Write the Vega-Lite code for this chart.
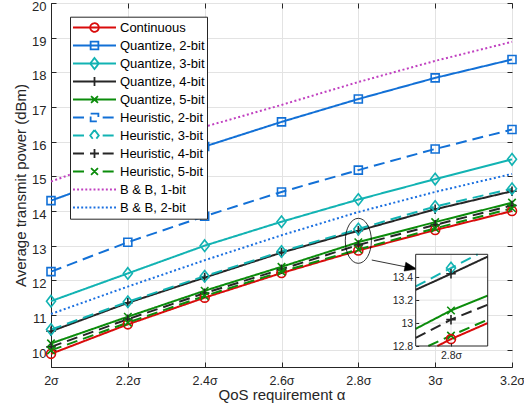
{
"$schema": "https://vega.github.io/schema/vega-lite/v6.json",
"width": 461, "height": 364,
"autosize": {"type": "none"},
"padding": {"left": 51, "top": 3, "right": 12, "bottom": 52},
"background": "white",
"config": {
  "font": "Liberation Sans",
  "view": {"stroke": "#262626", "strokeWidth": 1},
  "axis": {"domainColor": "#262626", "tickColor": "#262626", "labelColor": "#262626", "titleColor": "#262626", "labelFontSize": 13, "titleFontSize": 15, "titleFontWeight": "normal", "gridColor": "#e3e3e3", "gridWidth": 1, "tickSize": -5, "tickWidth": 1, "domainWidth": 1, "labelFont": "Liberation Sans", "titleFont": "Liberation Sans", "labelOverlap": false, "labelFlush": false}
},
"datasets": {
  "main": [
    {"series": "Continuous", "x": 2.0, "y": 9.88}, {"series": "Continuous", "x": 2.2, "y": 10.73}, {"series": "Continuous", "x": 2.4, "y": 11.5}, {"series": "Continuous", "x": 2.6, "y": 12.21}, {"series": "Continuous", "x": 2.8, "y": 12.86}, {"series": "Continuous", "x": 3.0, "y": 13.45}, {"series": "Continuous", "x": 3.2, "y": 14.0},
    {"series": "Quantize, 2-bit", "x": 2.0, "y": 14.3}, {"series": "Quantize, 2-bit", "x": 2.2, "y": 15.1}, {"series": "Quantize, 2-bit", "x": 2.4, "y": 15.86}, {"series": "Quantize, 2-bit", "x": 2.6, "y": 16.57}, {"series": "Quantize, 2-bit", "x": 2.8, "y": 17.23}, {"series": "Quantize, 2-bit", "x": 3.0, "y": 17.84}, {"series": "Quantize, 2-bit", "x": 3.2, "y": 18.37},
    {"series": "Quantize, 3-bit", "x": 2.0, "y": 11.4}, {"series": "Quantize, 3-bit", "x": 2.2, "y": 12.2}, {"series": "Quantize, 3-bit", "x": 2.4, "y": 13.0}, {"series": "Quantize, 3-bit", "x": 2.6, "y": 13.69}, {"series": "Quantize, 3-bit", "x": 2.8, "y": 14.33}, {"series": "Quantize, 3-bit", "x": 3.0, "y": 14.92}, {"series": "Quantize, 3-bit", "x": 3.2, "y": 15.49},
    {"series": "Quantize, 4-bit", "x": 2.0, "y": 10.53}, {"series": "Quantize, 4-bit", "x": 2.2, "y": 11.35}, {"series": "Quantize, 4-bit", "x": 2.4, "y": 12.08}, {"series": "Quantize, 4-bit", "x": 2.6, "y": 12.8}, {"series": "Quantize, 4-bit", "x": 2.8, "y": 13.43}, {"series": "Quantize, 4-bit", "x": 3.0, "y": 14.05}, {"series": "Quantize, 4-bit", "x": 3.2, "y": 14.57},
    {"series": "Quantize, 5-bit", "x": 2.0, "y": 10.18}, {"series": "Quantize, 5-bit", "x": 2.2, "y": 10.95}, {"series": "Quantize, 5-bit", "x": 2.4, "y": 11.7}, {"series": "Quantize, 5-bit", "x": 2.6, "y": 12.39}, {"series": "Quantize, 5-bit", "x": 2.8, "y": 13.1}, {"series": "Quantize, 5-bit", "x": 3.0, "y": 13.68}, {"series": "Quantize, 5-bit", "x": 3.2, "y": 14.24},
    {"series": "Heuristic, 2-bit", "x": 2.0, "y": 12.25}, {"series": "Heuristic, 2-bit", "x": 2.2, "y": 13.1}, {"series": "Heuristic, 2-bit", "x": 2.4, "y": 13.85}, {"series": "Heuristic, 2-bit", "x": 2.6, "y": 14.55}, {"series": "Heuristic, 2-bit", "x": 2.8, "y": 15.18}, {"series": "Heuristic, 2-bit", "x": 3.0, "y": 15.79}, {"series": "Heuristic, 2-bit", "x": 3.2, "y": 16.35},
    {"series": "Heuristic, 3-bit", "x": 2.0, "y": 10.58}, {"series": "Heuristic, 3-bit", "x": 2.2, "y": 11.38}, {"series": "Heuristic, 3-bit", "x": 2.4, "y": 12.12}, {"series": "Heuristic, 3-bit", "x": 2.6, "y": 12.83}, {"series": "Heuristic, 3-bit", "x": 2.8, "y": 13.48}, {"series": "Heuristic, 3-bit", "x": 3.0, "y": 14.13}, {"series": "Heuristic, 3-bit", "x": 3.2, "y": 14.64},
    {"series": "Heuristic, 4-bit", "x": 2.0, "y": 10.08}, {"series": "Heuristic, 4-bit", "x": 2.2, "y": 10.88}, {"series": "Heuristic, 4-bit", "x": 2.4, "y": 11.63}, {"series": "Heuristic, 4-bit", "x": 2.6, "y": 12.32}, {"series": "Heuristic, 4-bit", "x": 2.8, "y": 13.02}, {"series": "Heuristic, 4-bit", "x": 3.0, "y": 13.6}, {"series": "Heuristic, 4-bit", "x": 3.2, "y": 14.16},
    {"series": "Heuristic, 5-bit", "x": 2.0, "y": 9.98}, {"series": "Heuristic, 5-bit", "x": 2.2, "y": 10.78}, {"series": "Heuristic, 5-bit", "x": 2.4, "y": 11.55}, {"series": "Heuristic, 5-bit", "x": 2.6, "y": 12.25}, {"series": "Heuristic, 5-bit", "x": 2.8, "y": 12.89}, {"series": "Heuristic, 5-bit", "x": 3.0, "y": 13.5}, {"series": "Heuristic, 5-bit", "x": 3.2, "y": 14.08},
    {"series": "B & B, 1-bit", "x": 2.0, "y": 14.85}, {"series": "B & B, 1-bit", "x": 2.2, "y": 15.66}, {"series": "B & B, 1-bit", "x": 2.4, "y": 16.43}, {"series": "B & B, 1-bit", "x": 2.6, "y": 17.06}, {"series": "B & B, 1-bit", "x": 2.8, "y": 17.72}, {"series": "B & B, 1-bit", "x": 3.0, "y": 18.33}, {"series": "B & B, 1-bit", "x": 3.2, "y": 18.88},
    {"series": "B & B, 2-bit", "x": 2.0, "y": 11.03}, {"series": "B & B, 2-bit", "x": 2.2, "y": 11.82}, {"series": "B & B, 2-bit", "x": 2.4, "y": 12.58}, {"series": "B & B, 2-bit", "x": 2.6, "y": 13.3}, {"series": "B & B, 2-bit", "x": 2.8, "y": 13.97}, {"series": "B & B, 2-bit", "x": 3.0, "y": 14.55}, {"series": "B & B, 2-bit", "x": 3.2, "y": 15.07}
  ],
  "inset": [
    {"series": "Heuristic, 3-bit", "x": 2.7553, "y": 13.32}, {"series": "Heuristic, 3-bit", "x": 2.8, "y": 13.48}, {"series": "Heuristic, 3-bit", "x": 2.8338, "y": 13.6},
    {"series": "Quantize, 4-bit", "x": 2.7553, "y": 13.29}, {"series": "Quantize, 4-bit", "x": 2.8, "y": 13.43}, {"series": "Quantize, 4-bit", "x": 2.8465, "y": 13.58},
    {"series": "Quantize, 5-bit", "x": 2.7553, "y": 12.95}, {"series": "Quantize, 5-bit", "x": 2.8, "y": 13.11}, {"series": "Quantize, 5-bit", "x": 2.8465, "y": 13.24},
    {"series": "Heuristic, 4-bit", "x": 2.7553, "y": 12.87}, {"series": "Heuristic, 4-bit", "x": 2.8, "y": 13.03}, {"series": "Heuristic, 4-bit", "x": 2.8465, "y": 13.16},
    {"series": "Heuristic, 5-bit", "x": 2.7713, "y": 12.8}, {"series": "Heuristic, 5-bit", "x": 2.8, "y": 12.89}, {"series": "Heuristic, 5-bit", "x": 2.8465, "y": 13.03},
    {"series": "Continuous", "x": 2.7827, "y": 12.8}, {"series": "Continuous", "x": 2.8, "y": 12.86}, {"series": "Continuous", "x": 2.8465, "y": 13.0}
  ],
  "iframe": [{"x": 2.7553, "x2": 2.8465, "y": 12.8, "y2": 13.6}],
  "igrid": [
    {"x": 2.8, "x2": 2.8, "y": 12.8, "y2": 13.6},
    {"x": 2.7553, "x2": 2.8465, "y": 13.0, "y2": 13.0},
    {"x": 2.7553, "x2": 2.8465, "y": 13.2, "y2": 13.2},
    {"x": 2.7553, "x2": 2.8465, "y": 13.4, "y2": 13.4}
  ],
  "annot": [{"x": 2.8, "y": 13.14}],
  "arrow": [{"x": 2.835, "y": 12.586, "x2": 2.952, "y2": 12.326}]
},
"layer": [
  {
    "layer": [
      {
        "layer": [
          {
            "data": {"name": "main"},
            "mark": {"type": "line", "strokeWidth": 2},
            "encoding": {
              "x": {"field": "x", "type": "quantitative", "scale": {"domain": [2, 3.2], "nice": false, "zero": false},
                    "axis": {"orient": "bottom", "values": [2, 2.2, 2.4, 2.6, 2.8, 3, 3.2], "labelExpr": "format(datum.value, '~g') + 'σ'", "title": "QoS requirement α", "grid": true, "labelFontSize": 12.5, "labelPadding": 12, "titlePadding": 1, "labelOverlap": false, "labelFlush": false}},
              "y": {"field": "y", "type": "quantitative", "scale": {"domain": [9.5, 20], "nice": false, "zero": false},
                    "axis": {"orient": "left", "values": [10, 11, 12, 13, 14, 15, 16, 17, 18, 19, 20], "tickCount": 11, "title": "Average transmit power (dBm)", "grid": true, "labelPadding": 10, "labelOffset": 3.5, "titlePadding": 3, "labelOverlap": false, "labelFlush": false, "labelBound": false}},
              "color": {"field": "series", "type": "nominal",
                "scale": {"domain": ["Continuous", "Quantize, 2-bit", "Quantize, 3-bit", "Quantize, 4-bit", "Quantize, 5-bit", "Heuristic, 2-bit", "Heuristic, 3-bit", "Heuristic, 4-bit", "Heuristic, 5-bit", "B & B, 1-bit", "B & B, 2-bit"],
                          "range": ["#d90b0b", "#1270d6", "#12b3b3", "#262626", "#0b8c0b", "#1270d6", "#12b3b3", "#262626", "#0b8c0b", "#c040c0", "#1a6fe0"]},
                "legend": {"title": null, "orient": "none", "legendX": 19, "legendY": 13.7, "symbolSize": 1849, "clipHeight": 17.6, "rowPadding": 0, "padding": 2,
                  "strokeColor": "#262626", "fillColor": "white", "labelFontSize": 13, "labelColor": "#000", "labelOffset": 3, "symbolStrokeWidth": 1.8, "labelFont": "Liberation Sans",
                  "encode": {"symbols": {"update": {"shape": {"signal": "['M-1,0H1M0.2,0A0.2,0.2,0,1,1,-0.2,0A0.2,0.2,0,1,1,0.2,0','M-1,0H1M-0.18,-0.18H0.18V0.18H-0.18Z','M-1,0H1M0,-0.26L0.2,0L0,0.26L-0.2,0Z','M-1,0H1M0,-0.21V0.21','M-1,0H1M-0.16,-0.16L0.16,0.16M-0.16,0.16L0.16,-0.16','M-1,0H-0.38M0.38,0H1M-0.18,-0.18H0.18V0.18H-0.18Z','M-1,0H-0.38M0.38,0H1M0,-0.26L0.2,0L0,0.26L-0.2,0Z','M-1,0H-0.38M0.38,0H1M-0.21,0H0.21M0,-0.21V0.21','M-1,0H-0.38M0.38,0H1M-0.16,-0.16L0.16,0.16M-0.16,0.16L0.16,-0.16','M-1,0h0.09M-0.809,0h0.09M-0.618,0h0.09M-0.427,0h0.09M-0.236,0h0.09M-0.045,0h0.09M0.146,0h0.09M0.337,0h0.09M0.528,0h0.09M0.719,0h0.09M0.91,0h0.09','M-1,0h0.09M-0.809,0h0.09M-0.618,0h0.09M-0.427,0h0.09M-0.236,0h0.09M-0.045,0h0.09M0.146,0h0.09M0.337,0h0.09M0.528,0h0.09M0.719,0h0.09M0.91,0h0.09'][indexof(['Continuous','Quantize, 2-bit','Quantize, 3-bit','Quantize, 4-bit','Quantize, 5-bit','Heuristic, 2-bit','Heuristic, 3-bit','Heuristic, 4-bit','Heuristic, 5-bit','B & B, 1-bit','B & B, 2-bit'], datum.value)]"}, "fill": {"value": "transparent"}, "opacity": {"value": 1}}}}}},
              "strokeDash": {"field": "series", "type": "nominal",
                "scale": {"domain": ["Continuous", "Quantize, 2-bit", "Quantize, 3-bit", "Quantize, 4-bit", "Quantize, 5-bit", "Heuristic, 2-bit", "Heuristic, 3-bit", "Heuristic, 4-bit", "Heuristic, 5-bit", "B & B, 1-bit", "B & B, 2-bit"],
                          "range": [[1, 0], [1, 0], [1, 0], [1, 0], [1, 0], [11, 6], [11, 6], [11, 6], [11, 6], [2, 2.5], [2, 2.5]]},
                "legend": null}
            }
          },
          {
            "data": {"name": "main"},
            "transform": [{"filter": "indexof(datum.series, 'B & B') < 0"}],
            "mark": {"type": "point", "filled": false, "strokeWidth": 1.6, "size": 100, "opacity": 1},
            "encoding": {
              "x": {"field": "x", "type": "quantitative"},
              "y": {"field": "y", "type": "quantitative"},
              "color": {"field": "series", "type": "nominal", "legend": null},
              "shape": {"field": "series", "type": "nominal",
                "scale": {"domain": ["Continuous", "Quantize, 2-bit", "Quantize, 3-bit", "Quantize, 4-bit", "Quantize, 5-bit", "Heuristic, 2-bit", "Heuristic, 3-bit", "Heuristic, 4-bit", "Heuristic, 5-bit"],
                          "range": ["M0.9,0A0.9,0.9,0,1,1,-0.9,0A0.9,0.9,0,1,1,0.9,0", "M-0.8,-0.8H0.8V0.8H-0.8Z", "M0,-1.15L0.9,0L0,1.15L-0.9,0Z", "M-0.95,0H0.95M0,-0.95V0.95", "M-0.75,-0.75L0.75,0.75M-0.75,0.75L0.75,-0.75", "M-0.8,-0.8H0.8V0.8H-0.8Z", "M0,-1.15L0.9,0L0,1.15L-0.9,0Z", "M-0.95,0H0.95M0,-0.95V0.95", "M-0.75,-0.75L0.75,0.75M-0.75,0.75L0.75,-0.75"]},
                "legend": null}
            }
          },
          {
            "data": {"name": "annot"},
            "mark": {"type": "point", "shape": "M-0.58,0A0.58,1,0,1,0,0.58,0A0.58,1,0,1,0,-0.58,0", "size": 2025, "filled": false, "stroke": "#000", "strokeWidth": 0.8, "opacity": 1},
            "encoding": {"x": {"field": "x", "type": "quantitative"}, "y": {"field": "y", "type": "quantitative"}}
          },
          {
            "data": {"name": "arrow"},
            "mark": {"type": "rule", "stroke": "#000", "strokeWidth": 0.8},
            "encoding": {"x": {"field": "x", "type": "quantitative"}, "y": {"field": "y", "type": "quantitative"}, "x2": {"field": "x2"}, "y2": {"field": "y2"}}
          },
          {
            "data": {"name": "arrow"},
            "mark": {"type": "point", "shape": "M0,0L-2.4,-0.9L-2.4,0.9Z", "size": 100, "filled": true, "fill": "#000", "stroke": "#000", "strokeWidth": 0.5, "opacity": 1, "angle": 11.3},
            "encoding": {"x": {"field": "x2", "type": "quantitative"}, "y": {"field": "y2", "type": "quantitative"}}
          }
        ]
      },
      {
        "data": {"name": "main"},
        "mark": {"type": "point", "opacity": 0},
        "encoding": {
          "x": {"field": "x", "type": "quantitative", "axis": {"orient": "top", "values": [2, 2.2, 2.4, 2.6, 2.8, 3, 3.2], "labels": false, "grid": false, "domain": false, "title": null}},
          "y": {"field": "y", "type": "quantitative", "axis": {"orient": "right", "values": [10, 11, 12, 13, 14, 15, 16, 17, 18, 19, 20], "tickCount": 11, "labels": false, "grid": false, "domain": false, "title": null}}
        }
      }
    ],
    "resolve": {"axis": {"x": "independent", "y": "independent"}}
  },
  {
    "layer": [
      {
        "data": {"name": "iframe"},
        "mark": {"type": "rect", "fill": "white", "strokeWidth": 0},
        "encoding": {
          "x": {"field": "x", "type": "quantitative", "scale": {"domain": [2.7553, 2.8465], "range": [364.7, 436.7], "nice": false, "zero": false},
                "axis": {"orient": "bottom", "offset": -21, "values": [2.8], "labelExpr": "'2.8σ'", "title": null, "grid": false, "domain": false, "labelFontSize": 10.5, "tickSize": -3, "labelPadding": 7, "zindex": 1}},
          "x2": {"field": "x2"},
          "y": {"field": "y", "type": "quantitative", "scale": {"domain": [12.8, 13.6], "range": [343, 251.3], "nice": false, "zero": false},
                "axis": {"orient": "left", "offset": -364.7, "values": [12.8, 13, 13.2, 13.4], "tickCount": 4, "format": "~g", "title": null, "grid": false, "domain": false, "labelFontSize": 10.5, "tickSize": -3, "labelPadding": 6, "zindex": 1, "labelOverlap": false}},
          "y2": {"field": "y2"}
        }
      },
      {
        "data": {"name": "igrid"},
        "mark": {"type": "rule", "stroke": "#e3e3e3", "strokeWidth": 1},
        "encoding": {"x": {"field": "x", "type": "quantitative"}, "x2": {"field": "x2"}, "y": {"field": "y", "type": "quantitative"}, "y2": {"field": "y2"}}
      },
      {
        "data": {"name": "inset"},
        "mark": {"type": "line", "strokeWidth": 2},
        "encoding": {
          "x": {"field": "x", "type": "quantitative"},
          "y": {"field": "y", "type": "quantitative"},
          "color": {"field": "series", "type": "nominal", "legend": null},
          "strokeDash": {"field": "series", "type": "nominal", "legend": null}
        }
      },
      {
        "data": {"name": "inset"},
        "transform": [{"filter": "datum.x == 2.8"}],
        "mark": {"type": "point", "filled": false, "strokeWidth": 1.6, "size": 100, "opacity": 1},
        "encoding": {
          "x": {"field": "x", "type": "quantitative"},
          "y": {"field": "y", "type": "quantitative"},
          "color": {"field": "series", "type": "nominal", "legend": null},
          "shape": {"field": "series", "type": "nominal", "legend": null}
        }
      },
      {
        "data": {"name": "iframe"},
        "mark": {"type": "rect", "fillOpacity": 0, "stroke": "#262626", "strokeWidth": 1},
        "encoding": {"x": {"field": "x", "type": "quantitative"}, "x2": {"field": "x2"}, "y": {"field": "y", "type": "quantitative"}, "y2": {"field": "y2"}}
      }
    ]
  }
],
"resolve": {"scale": {"x": "independent", "y": "independent"}}
}
